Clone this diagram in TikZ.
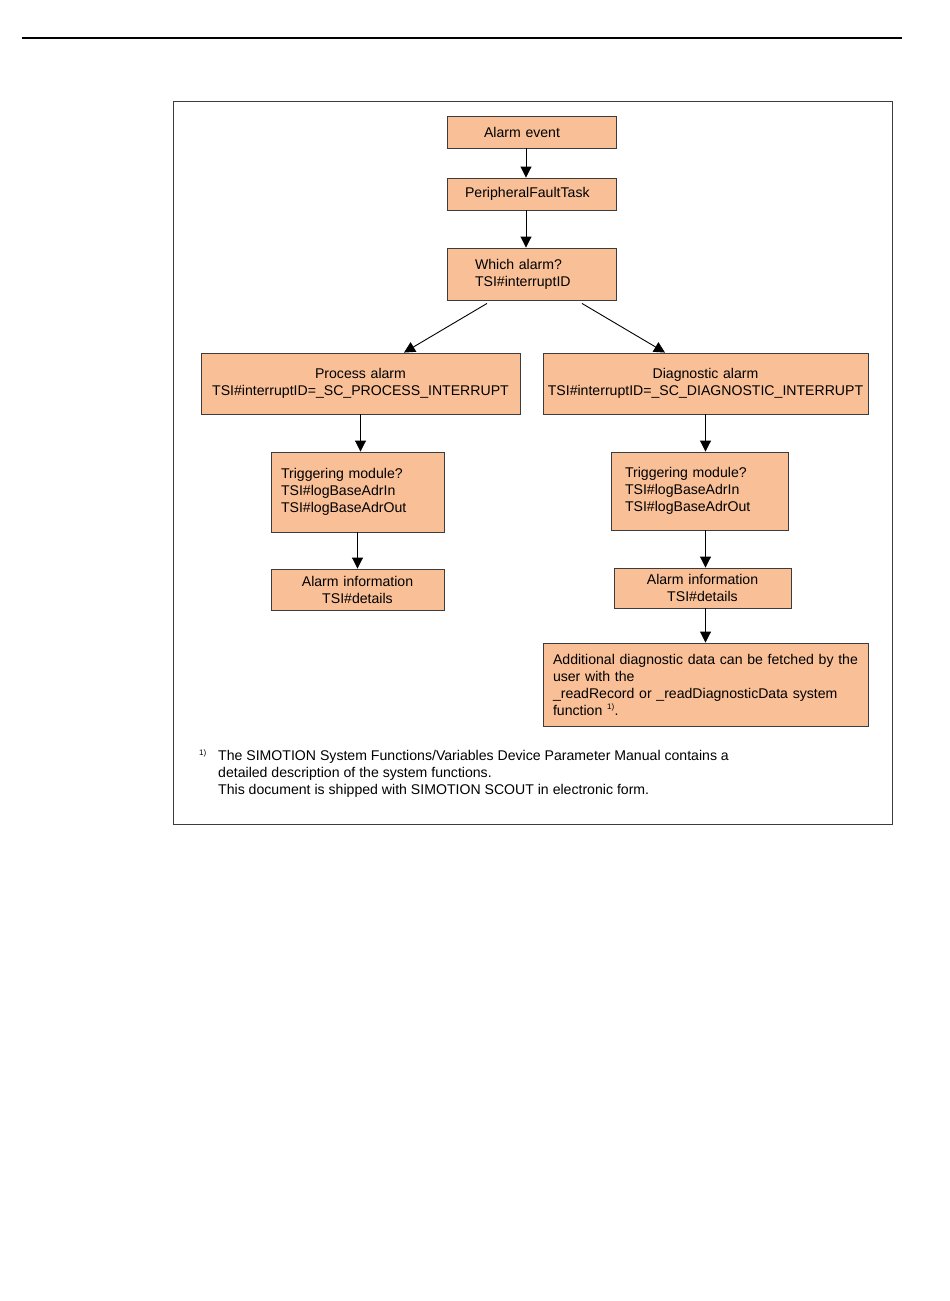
\documentclass[tikz,border=0pt]{standalone}
\usepackage{fontspec}
\setmainfont{Liberation Sans}
\usetikzlibrary{arrows.meta,positioning}
\definecolor{alarmfill}{RGB}{249,191,151}
\definecolor{framegray}{RGB}{60,60,60}

\begin{document}
\begin{tikzpicture}[x=1pt, y=-1pt,
  box/.style={draw=framegray, fill=alarmfill, line width=0.9pt, inner ysep=0pt,
    font=\fontsize{14.1}{17}\selectfont},
  flow/.style={-{Triangle[length=11pt,width=11pt]}, line width=0.9pt}]
  \useasboundingbox (0,0) rectangle (950,1301);

  % Page rule and frame
  \draw[line width=1.2pt] (22,38) -- (902,38);
  \draw[framegray, line width=0.8pt] (173,101) rectangle (892,824);

  % Common path
  \node[box, minimum width=169, minimum height=32, inner xsep=37, text width=95, align=left] (event) at (531.5,132) {Alarm event};
  \node[box, minimum width=169, minimum height=32, inner xsep=18, text width=133, align=left] (fault) at (531.5,194) {PeripheralFaultTask};
  \node[box, minimum width=169, minimum height=52, inner xsep=28, text width=113, align=left] (which) at (531.5,274) {Which alarm?\\TSI\#interruptID};

  % Process alarm branch
  \node[box, minimum width=319, minimum height=61, inner xsep=0, text width=319, align=center] (procA) at (360.5,383.5) {Process alarm\\TSI\#interruptID=\_SC\_PROCESS\_INTERRUPT};
  \node[box, minimum width=173, minimum height=80, inner xsep=10, text width=153, align=left] (trigA) at (357.5,492) {Triggering module?\\TSI\#logBaseAdrIn\\TSI\#logBaseAdrOut};
  \node[box, minimum width=173, minimum height=41, inner xsep=0, text width=173, align=center] (infoA) at (357.5,589.5) {Alarm information\\TSI\#details};

  % Diagnostic alarm branch
  \node[box, minimum width=325, minimum height=61, inner xsep=0, text width=325, align=center] (diagB) at (705.5,383.5) {Diagnostic alarm\\TSI\#interruptID=\_SC\_DIAGNOSTIC\_INTERRUPT};
  \node[box, minimum width=177, minimum height=78, inner xsep=14, text width=149, align=left] (trigB) at (699.5,491) {Triggering module?\\TSI\#logBaseAdrIn\\TSI\#logBaseAdrOut};
  \node[box, minimum width=177, minimum height=40, inner xsep=0, text width=177, align=center] (infoB) at (702.5,588) {Alarm information\\TSI\#details};
  \node[box, minimum width=325, minimum height=83, inner xsep=10, text width=305, align=left] (extra) at (705.5,684.5) {Additional diagnostic data can be fetched by the\\user with the\\\_readRecord or \_readDiagnosticData system\\function \textsuperscript{\fontsize{8}{9}\selectfont 1)}.};

  % Connectors
  \draw[flow] ([xshift=-5.5]event.south) -- ([xshift=-5.5]fault.north);
  \draw[flow] ([xshift=-5.5]fault.south) -- ([xshift=-5.5]which.north);
  \draw[flow] ([xshift=-44.5,yshift=-3]which.south) -- ([xshift=43.5]procA.north);
  \draw[flow] ([xshift=50.5,yshift=-3]which.south) -- ([xshift=-40.5]diagB.north);
  \draw[flow] (procA.south) -- (procA.south |- trigA.north);
  \draw[flow] (trigA.south) -- (infoA.north);
  \draw[flow] (diagB.south) -- (diagB.south |- trigB.north);
  \draw[flow] (diagB.south |- trigB.south) -- (diagB.south |- infoB.north);
  \draw[flow] (diagB.south |- infoB.south) -- (extra.north);

  % Footnote
  \node[anchor=base west, inner sep=0, font=\fontsize{8}{9}\selectfont] (mark) at (199,755) {1)};
  \node[anchor=north west, inner sep=0, align=left, font=\fontsize{14.1}{17}\selectfont] (note) at (218,750.5) {The SIMOTION System Functions/Variables Device Parameter Manual contains a\\detailed description of the system functions.\\This document is shipped with SIMOTION SCOUT in electronic form.};
\end{tikzpicture}
\end{document}
